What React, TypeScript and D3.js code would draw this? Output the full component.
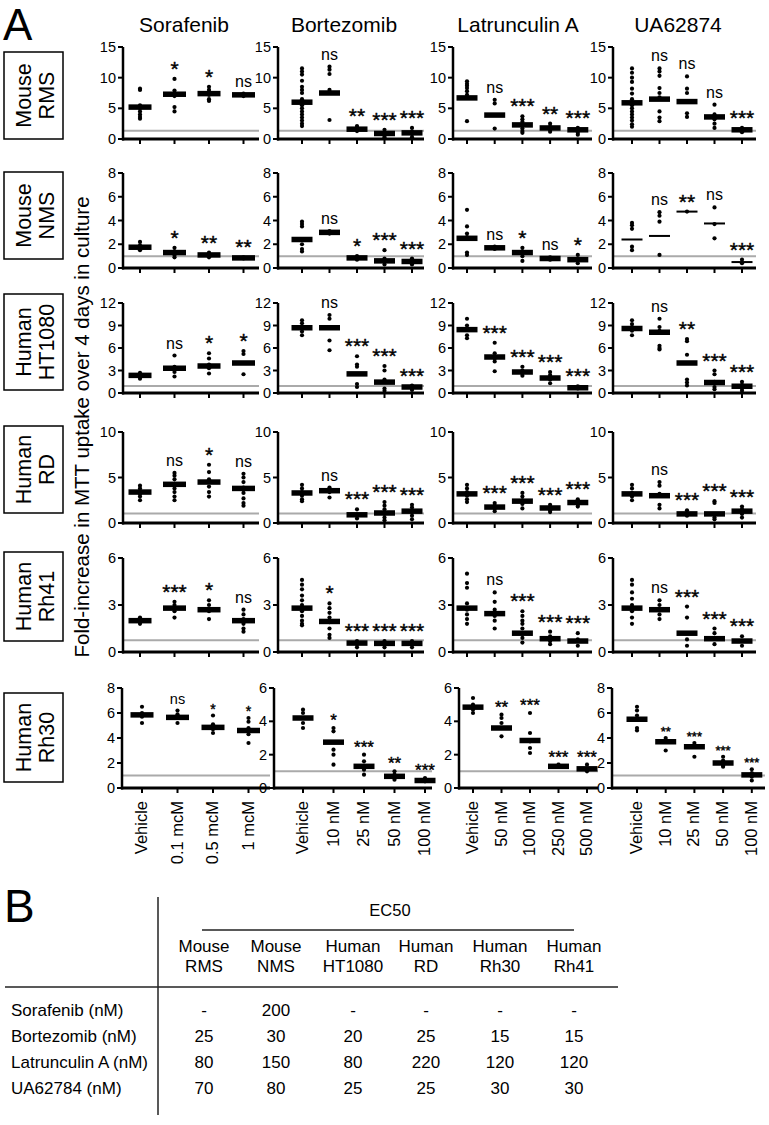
import React from 'react';
import * as d3 from 'd3';

const FONT = "'Liberation Sans', Arial, Helvetica, sans-serif";

// ---------- DATA ----------
const drugs = ["Sorafenib", "Bortezomib", "Latrunculin A", "UA62874"];
const doseLabels = [
  ["Vehicle", "0.1 mcM", "0.5 mcM", "1 mcM"],
  ["Vehicle", "10 nM", "25 nM", "50 nM", "100 nM"],
  ["Vehicle", "50 nM", "100 nM", "250 nM", "500 nM"],
  ["Vehicle", "10 nM", "25 nM", "50 nM", "100 nM"],
];
const cellLines = [["Mouse", "RMS"], ["Mouse", "NMS"], ["Human", "HT1080"], ["Human", "RD"], ["Human", "Rh41"], ["Human", "Rh30"]];
const yMaxByRow = [[15, 15, 15, 15], [8, 8, 8, 8], [12, 12, 12, 12], [10, 10, 10, 10], [6, 6, 6, 6], [8, 6, 6, 8]];
const yStepByRow = [5, 2, 3, 5, 3, 2];
const vehicleLevel = [1.35, 1.0, 0.95, 1.05, 0.75, 1.0];

const rmsMeans = [[5.2, 7.3, 7.4, 7.2], [6.0, 7.5, 1.6, 0.9, 1.0], [6.7, 3.9, 2.3, 1.8, 1.5], [5.9, 6.5, 6.1, 3.6, 1.5]];
const rmsPoints = [
  [[8.2, 8.0, 5.5, 5.0, 4.5, 4.0, 3.6, 3.3], [9.8, 7.9, 7.5, 7.0, 5.2, 4.5], [8.5, 8.0, 7.2, 6.5, 6.2], [7.4, 7.2, 7.0]],
  [[11.5, 11.0, 10.5, 9.5, 8.5, 8.0, 7.5, 6.5, 6.0, 5.5, 5.0, 4.5, 4.0, 3.5, 3.0, 2.5, 2.1], [11.8, 11.3, 10.6, 8.0, 7.5, 3.1], [2.1, 1.8, 1.5, 1.3], [1.5, 1.0, 0.6, 0.3], [1.8, 1.2, 0.8, 0.3]],
  [[9.4, 9.0, 8.7, 8.3, 7.8, 7.2, 6.8, 2.9], [6.4, 5.8, 1.7], [3.7, 3.2, 2.8, 2.2, 1.7, 1.3, 1.0], [2.5, 2.0, 1.5, 1.2], [1.8, 1.4, 1.0, 0.7]],
  [[11.5, 10.8, 10.0, 9.3, 8.2, 7.4, 6.5, 5.5, 5.0, 4.5, 4.0, 3.5, 3.0, 2.4, 2.0], [11.5, 11.0, 10.3, 8.3, 7.5, 6.8, 4.5, 3.5, 2.9], [10.2, 8.2, 7.5, 4.2, 3.6], [5.6, 4.0, 3.2, 2.5, 1.8], [1.8, 1.4, 1.1]],
];
const rmsSig = [["", "*", "*", "ns"], ["", "ns", "**", "***", "***"], ["", "ns", "***", "**", "***"], ["", "ns", "ns", "ns", "***"]];

const nmsMeans = [[1.75, 1.3, 1.1, 0.85], [2.4, 3.0, 0.85, 0.6, 0.55], [2.5, 1.7, 1.3, 0.8, 0.7], [2.4, 2.7, 4.75, 3.75, 0.5]];
const nmsPoints = [
  [[2.2, 1.9, 1.6, 1.5], [1.7, 1.4, 1.1, 0.9], [1.3, 1.0, 0.9], [0.9, 0.8]],
  [[3.9, 3.7, 3.5, 2.0, 1.6, 1.4], [3.1, 2.9], [1.0, 0.8, 0.7], [1.5, 0.8, 0.5, 0.3], [0.8, 0.5, 0.3]],
  [[4.9, 3.5, 2.9, 2.6, 1.3, 1.1], [1.8, 1.6], [1.7, 1.4, 1.0, 0.6], [0.9, 0.7], [1.1, 0.7, 0.4]],
  [[3.8, 3.6, 3.3, 1.8, 1.5], [4.7, 4.4, 3.9, 1.1], [4.75], [5.1, 3.7, 2.5], [0.7, 0.4]],
];
const nmsSig = [["", "*", "**", "**"], ["", "ns", "*", "***", "***"], ["", "ns", "*", "ns", "*"], ["", "ns", "**", "ns", "***"]];

const ht1080Means = [[2.35, 3.3, 3.6, 4.0], [8.7, 8.7, 2.55, 1.45, 0.8], [8.45, 4.8, 2.8, 2.0, 0.7], [8.6, 8.1, 4.0, 1.4, 0.9]];
const ht1080Points = [
  [[2.7, 2.4, 2.1, 1.9], [5.0, 3.5, 2.8, 2.2], [5.3, 4.6, 3.8, 3.3, 2.6], [5.6, 5.2, 4.0, 2.5]],
  [[9.7, 9.3, 8.8, 8.2, 7.7], [10.4, 9.9, 7.0, 5.7], [4.9, 3.8, 3.5, 1.2, 0.8], [3.6, 3.0, 1.8, 0.6, 0.3], [1.0, 0.6, 0.4]],
  [[9.9, 9.0, 8.5, 7.7, 7.3], [6.7, 5.3, 4.6, 4.2, 2.9], [3.5, 3.0, 2.6, 2.3], [2.8, 2.4, 1.8, 1.3], [0.9, 0.6]],
  [[9.7, 9.2, 8.8, 8.3, 7.7], [9.9, 8.8, 8.3, 6.3, 6.0, 5.8], [7.2, 6.9, 5.1, 1.8, 1.4, 1.0], [3.0, 2.5, 1.5, 0.8, 0.5], [1.5, 1.1, 0.6, 0.3]],
];
const ht1080Sig = [["", "ns", "*", "*"], ["", "ns", "***", "***", "***"], ["", "***", "***", "***", "***"], ["", "ns", "**", "***", "***"]];

const rdMeans = [[3.4, 4.25, 4.5, 3.8], [3.3, 3.55, 0.9, 1.1, 1.3], [3.2, 1.75, 2.4, 1.65, 2.25], [3.2, 3.0, 1.0, 1.0, 1.3]];
const rdPoints = [
  [[4.1, 3.8, 3.5, 3.2, 2.9, 2.5], [5.5, 5.2, 4.8, 4.3, 3.8, 3.4, 2.9, 2.5], [6.4, 5.6, 4.8, 4.0, 3.4, 2.9], [5.4, 5.0, 4.5, 3.9, 3.3, 2.7, 2.2, 1.9]],
  [[4.2, 3.8, 3.4, 3.0, 2.6, 2.4], [3.9, 3.5, 3.4, 2.8], [1.5, 0.9, 0.5], [2.3, 1.9, 1.5, 1.0, 0.6, 0.3], [2.0, 1.7, 1.2, 0.8, 0.4]],
  [[4.2, 3.8, 3.4, 3.0, 2.6, 2.3], [2.2, 1.9, 1.6, 1.3], [3.3, 2.9, 2.5, 2.1, 1.6], [2.0, 1.7, 1.4, 1.2], [2.6, 2.3, 2.0, 1.8]],
  [[4.2, 3.8, 3.3, 2.9, 2.5], [4.5, 4.1, 3.2, 2.0, 1.6], [1.4, 1.1, 0.8], [2.4, 2.2, 0.6, 0.4], [1.8, 1.5, 1.0, 0.6]],
];
const rdSig = [["", "ns", "*", "ns"], ["", "ns", "***", "***", "***"], ["", "***", "***", "***", "***"], ["", "ns", "***", "***", "***"]];

const rh41Means = [[2.0, 2.8, 2.7, 2.0], [2.8, 1.95, 0.57, 0.55, 0.55], [2.8, 2.45, 1.2, 0.85, 0.7], [2.8, 2.7, 1.2, 0.85, 0.7]];
const rh41Points = [
  [[2.2, 2.0, 1.8], [3.2, 3.0, 2.8, 2.6, 2.2], [3.3, 3.0, 2.6, 2.1], [2.7, 2.4, 2.1, 1.8, 1.5, 1.3]],
  [[4.6, 4.3, 4.0, 3.6, 3.3, 3.0, 2.6, 2.3, 2.0, 1.8, 1.7], [3.1, 2.8, 2.5, 2.2, 1.9, 1.5, 1.1, 0.9], [0.7, 0.5, 0.3], [0.7, 0.5, 0.3], [0.7, 0.5, 0.3]],
  [[5.0, 4.4, 4.1, 3.1, 2.7, 2.4, 2.1, 1.8], [3.8, 3.2, 2.7, 2.3, 2.0, 1.5], [2.6, 2.3, 2.0, 1.8, 1.5, 1.2, 0.9, 0.6], [1.3, 1.0, 0.7, 0.5], [1.2, 0.8, 0.4]],
  [[4.6, 4.3, 3.8, 3.4, 3.0, 2.6, 2.2, 1.8], [3.3, 3.0, 2.7, 2.4, 2.1], [2.9, 2.2, 0.8, 0.4], [1.5, 1.2, 0.9, 0.5], [1.0, 0.7, 0.4]],
];
const rh41Sig = [["", "***", "*", "ns"], ["", "*", "***", "***", "***"], ["", "ns", "***", "***", "***"], ["", "ns", "***", "***", "***"]];

const rh30Means = [[5.85, 5.65, 4.85, 4.6], [4.2, 2.75, 1.3, 0.7, 0.45], [4.85, 3.6, 2.85, 1.3, 1.15], [5.5, 3.7, 3.3, 2.0, 1.05]];
const rh30Points = [
  [[6.5, 6.0, 5.7, 5.2], [6.2, 5.9, 5.6, 5.2], [5.8, 5.1, 4.7, 4.4], [5.6, 5.3, 4.8, 4.3, 3.6]],
  [[4.7, 4.5, 4.2, 3.9, 3.6], [3.6, 3.4, 2.3, 2.0, 1.4], [2.0, 1.6, 1.1, 0.8], [1.0, 0.8, 0.5], [0.6, 0.4]],
  [[5.4, 5.0, 4.7, 4.5], [4.4, 4.2, 3.9, 3.1], [4.5, 3.3, 2.8, 2.4, 2.1], [1.4, 1.3], [1.4, 1.1, 1.0]],
  [[6.5, 6.2, 5.8, 4.8, 4.6], [4.0, 3.8, 3.0], [3.6, 3.4, 2.5], [2.5, 2.2, 1.8, 1.7], [1.5, 1.2, 0.9, 0.6]],
];
const rh30Sig = [["", "ns", "*", "*"], ["", "*", "***", "**", "***"], ["", "**", "***", "***", "***"], ["", "**", "***", "***", "***"]];

const allMeans = [rmsMeans, nmsMeans, ht1080Means, rdMeans, rh41Means, rh30Means];
const allPoints = [rmsPoints, nmsPoints, ht1080Points, rdPoints, rh41Points, rh30Points];
const allSig = [rmsSig, nmsSig, ht1080Sig, rdSig, rh41Sig, rh30Sig];

// table B
const tableCols = [["Mouse", "RMS"], ["Mouse", "NMS"], ["Human", "HT1080"], ["Human", "RD"], ["Human", "Rh30"], ["Human", "Rh41"]];
const tableRows = ["Sorafenib (nM)", "Bortezomib (nM)", "Latrunculin A (nM)", "UA62784 (nM)"];
const tableValues = [
  ["-", "200", "-", "-", "-", "-"],
  ["25", "30", "20", "25", "15", "15"],
  ["80", "150", "80", "220", "120", "120"],
  ["70", "80", "25", "25", "30", "30"],
];

// ---------- LAYOUT ----------
const colLayout = [
  { axisX: 123, first: 140, step: 34.5, end: 259 },
  { axisX: 278, first: 302, step: 27.5, end: 424 },
  { axisX: 453, first: 467, step: 27.7, end: 592 },
  { axisX: 613, first: 632, step: 27.5, end: 756 },
];
const lastRowLayout = [
  { axisX: 122, first: 142, step: 35.5, end: 270 },
  { axisX: 274, first: 303, step: 30.5, end: 432 },
  { axisX: 459, first: 473, step: 28.5, end: 598 },
  { axisX: 612, first: 637, step: 28.7, end: 765 },
];
const rowY = [
  { y0: 139, top: 47 }, { y0: 268, top: 173 }, { y0: 393, top: 303 },
  { y0: 523, top: 432 }, { y0: 652, top: 558 }, { y0: 788, top: 688 },
];
const rowBox = [[52, 139], [172, 259], [294, 390], [426, 513], [552, 641], [693, 782]];
const titleX = [184, 344, 518, 678];
const lastRowStarFont = [14, 17, 17, 13];
const tableColX = [204, 276, 353, 426, 500, 574];

function Panel({ row, col }: { row: number; col: number }) {
  const lay = row === 5 ? lastRowLayout[col] : colLayout[col];
  const ry = rowY[row];
  const ymax = yMaxByRow[row][col];
  const y = d3.scaleLinear().domain([0, ymax]).range([ry.y0, ry.top]);
  const cats = doseLabels[col];
  const x = d3.scalePoint<string>().domain(cats).range([lay.first, lay.first + lay.step * (cats.length - 1)]);
  const ticks = d3.range(0, ymax + 0.001, yStepByRow[row]);
  const means = allMeans[row][col];
  const pts = allPoints[row][col];
  const sig = allSig[row][col];
  const thin = row === 1 && col === 3;
  const bw = col === 0 ? 23 : 21;
  const bh = thin ? 2 : 5.5;
  const starFont = row === 5 ? lastRowStarFont[col] : 21;
  const nsFont = row === 5 ? 14.5 : 16;
  return (
    <g>
      <line x1={lay.axisX} x2={lay.end} y1={y(vehicleLevel[row])} y2={y(vehicleLevel[row])} stroke="#aaaaaa" strokeWidth={2} />
      <line x1={lay.axisX} x2={lay.axisX} y1={ry.y0 + 1.5} y2={ry.top} stroke="#000" strokeWidth={2.5} />
      {ticks.map((t) => (
        <g key={t}>
          <line x1={lay.axisX - 5} x2={lay.axisX} y1={y(t)} y2={y(t)} stroke="#000" strokeWidth={2} />
          <text x={lay.axisX - 7} y={y(t)} dy="0.35em" textAnchor="end" fontSize={14.5} fontFamily={FONT}>{t}</text>
        </g>
      ))}
      <line x1={lay.axisX - 1} x2={lay.end} y1={ry.y0} y2={ry.y0} stroke="#000" strokeWidth={3} />
      {cats.map((c, i) => {
        const cx = x(c) as number;
        const maxV = d3.max(pts[i]) ?? means[i];
        const top = y(Math.max(maxV, means[i]));
        const s = sig[i];
        const isStar = s.startsWith("*");
        return (
          <g key={c}>
            <line x1={cx} x2={cx} y1={ry.y0} y2={ry.y0 + 5} stroke="#000" strokeWidth={2} />
            {pts[i].map((v, k) => (
              <circle key={k} cx={cx} cy={y(v)} r={2.1} fill="#000" />
            ))}
            <rect x={cx - bw / 2} y={y(means[i]) - bh / 2} width={bw} height={bh} fill="#000" />
            {s && (
              <text x={cx} y={isStar ? top - (row === 5 ? 2 : 3) : top - 7} textAnchor="middle"
                fontSize={isStar ? starFont : nsFont} fontFamily={FONT}
                stroke={isStar ? "#000" : "none"} strokeWidth={isStar ? 0.4 : 0}>{s}</text>
            )}
            {row === 5 && (
              <text transform={`translate(${cx + 5},801) rotate(-90)`} textAnchor="end" fontSize={16.5} fontFamily={FONT}>{c}</text>
            )}
          </g>
        );
      })}
    </g>
  );
}

export default function App() {
  return (
    <svg width={769} height={1125} style={{ position: 'absolute', left: 0, top: 0, background: '#fff' }} fontFamily={FONT}>
      <rect width={769} height={1125} fill="#fff" />
      <text x={3} y={40} fontSize={44} fontFamily={FONT}>A</text>
      {drugs.map((d, i) => (
        <text key={d} x={titleX[i]} y={32} textAnchor="middle" fontSize={21} fontFamily={FONT}>{d}</text>
      ))}
      {cellLines.map((cl, r) => {
        const [t, b] = rowBox[r];
        const cy = (t + b) / 2;
        return (
          <g key={r}>
            <rect x={4} y={t} width={59} height={b - t} fill="none" stroke="#000" strokeWidth={1.5} />
            <text transform={`translate(31,${cy}) rotate(-90)`} textAnchor="middle" fontSize={21.5} fontFamily={FONT}>{cl[0]}</text>
            <text transform={`translate(54,${cy}) rotate(-90)`} textAnchor="middle" fontSize={21.5} fontFamily={FONT}>{cl[1]}</text>
          </g>
        );
      })}
      <text transform="translate(89,427) rotate(-90)" textAnchor="middle" fontSize={20.5} fontFamily={FONT}>
        Fold-increase in MTT uptake over 4 days in culture
      </text>
      {cellLines.map((_, r) => drugs.map((__, c) => <Panel key={`${r}-${c}`} row={r} col={c} />))}

      {/* Panel B */}
      <text x={4} y={922} fontSize={46} fontFamily={FONT}>B</text>
      <line x1={158} x2={158} y1={897} y2={1115} stroke="#222" strokeWidth={1.5} />
      <text x={390} y={916} textAnchor="middle" fontSize={16.5} fontFamily={FONT}>EC50</text>
      <line x1={202} x2={574} y1={930} y2={930} stroke="#222" strokeWidth={1.5} />
      {tableCols.map((h, i) => (
        <g key={i}>
          <text x={tableColX[i]} y={952} textAnchor="middle" fontSize={17} fontFamily={FONT}>{h[0]}</text>
          <text x={tableColX[i]} y={972} textAnchor="middle" fontSize={17} fontFamily={FONT}>{h[1]}</text>
        </g>
      ))}
      <line x1={5} x2={618} y1={987} y2={987} stroke="#222" strokeWidth={1.5} />
      {tableRows.map((rl, r) => (
        <g key={rl}>
          <text x={11} y={1016 + r * 26} fontSize={17} fontFamily={FONT}>{rl}</text>
          {tableValues[r].map((v, c) => (
            <text key={c} x={tableColX[c]} y={1016 + r * 26} textAnchor="middle" fontSize={17} fontFamily={FONT}>{v}</text>
          ))}
        </g>
      ))}
    </svg>
  );
}
